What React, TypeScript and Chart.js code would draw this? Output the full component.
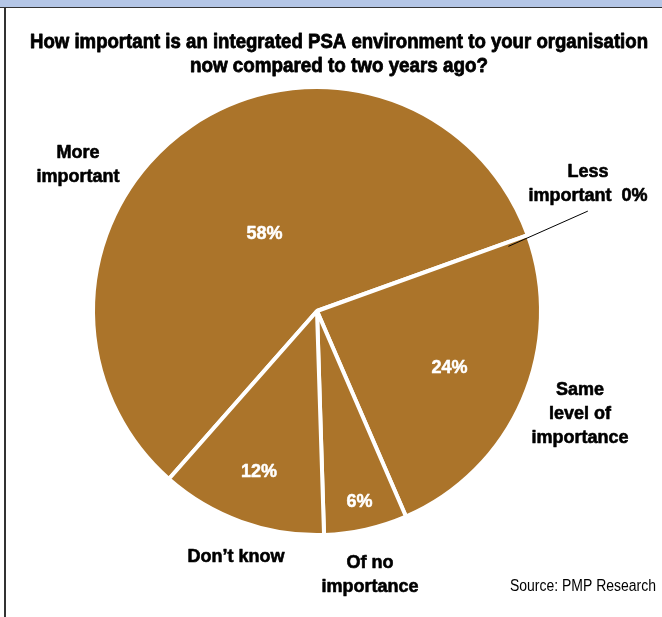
import React, { useEffect, useRef } from "react";
import { Chart, registerables } from "chart.js";

Chart.register(...registerables);

const categories = ["More important", "Less important", "Same level of importance", "Of no importance", "Don't know"];
const values = [58, 0, 24, 6, 12];
const percentLabels = ["58%", "", "24%", "6%", "12%"];
const outsideLabels = [["More", "important"], ["Less", "important  0%"], ["Same", "level of", "importance"], ["Of no", "importance"], ["Don\u2019t know"]];
const titleLines = ["How important is an integrated PSA environment to your organisation", "now compared to two years ago?"];
const sourceText = "Source: PMP Research";

// layout helpers (positions relative to pie center, in radius units)
const pctRadial = [0.42, 0, 0.65, 0.88, 0.77];
const outsideOffsets: [number, number][] = [[-1.077, -0.658], [1.221, -0.574], [1.185, 0.464], [0.239, 1.189], [-0.365, 1.108]];

const FONT = '"Liberation Sans", Arial, sans-serif';
const SLICE = "#ab742a";

function heavyText(ctx: any, text: string, x: number, y: number, weight: number) {
  ctx.fillText(text, x, y);
  if (weight > 0) {
    ctx.lineWidth = weight;
    ctx.strokeStyle = ctx.fillStyle;
    ctx.lineJoin = "round";
    ctx.strokeText(text, x, y);
  }
}

function fitText(ctx: any, text: string, x: number, y: number, width: number, weight: number) {
  const w = ctx.measureText(text).width;
  const s = Math.min(1, width / w);
  ctx.save();
  ctx.translate(x, y);
  ctx.scale(s, 1);
  heavyText(ctx, text, 0, 0, weight);
  ctx.restore();
}

const labelPlugin = {
  id: "labels",
  afterDraw(chart: any) {
    const ctx = chart.ctx;
    const meta = chart.getDatasetMeta(0);
    const arcs = meta.data;
    if (!arcs.length) return;
    const a0 = arcs[0];
    const cx = a0.x, cy = a0.y;
    const r = 222;
    ctx.save();
    // title
    ctx.fillStyle = "#000";
    ctx.textAlign = "center";
    ctx.textBaseline = "middle";
    ctx.font = `bold 20px ${FONT}`;
    fitText(ctx, titleLines[0], 339, 42, 618, 0.8);
    fitText(ctx, titleLines[1], 339, 66, 298, 0.8);

    // percent labels
    ctx.font = `bold 18px ${FONT}`;
    ctx.fillStyle = "#fff";
    arcs.forEach((arc: any, i: number) => {
      if (!percentLabels[i]) return;
      const p = arc.getProps(["startAngle", "endAngle"], true);
      const mid = (p.startAngle + p.endAngle) / 2;
      const d = pctRadial[i] * r;
      heavyText(ctx, percentLabels[i], cx + Math.cos(mid) * d, cy + Math.sin(mid) * d, 0.5);
    });

    // outside labels
    ctx.fillStyle = "#000";
    ctx.font = `bold 18px ${FONT}`;
    const lh = 24;
    outsideLabels.forEach((lines, i) => {
      const [ox, oy] = outsideOffsets[i];
      const x = cx + ox * r;
      const y = cy + oy * r;
      const top = y - ((lines.length - 1) * lh) / 2;
      lines.forEach((t, j) => heavyText(ctx, t, x, top + j * lh, 0.6));
    });

    // leader line for zero slice
    const z = arcs[1].getProps(["startAngle"], true).startAngle;
    ctx.strokeStyle = "#000";
    ctx.lineWidth = 1;
    ctx.beginPath();
    ctx.moveTo(cx + Math.cos(z + 0.02) * r * 0.91, cy + Math.sin(z + 0.02) * r * 0.91);
    ctx.lineTo(cx + 1.22 * r, cy - 0.45 * r);
    ctx.stroke();

    // source
    ctx.font = `16px ${FONT}`;
    ctx.textAlign = "left";
    fitText(ctx, sourceText, 510, 587, 146, 0);
    ctx.restore();
  },
};

export default function App() {
  const ref = useRef<HTMLCanvasElement>(null);
  useEffect(() => {
    if (!ref.current) return;
    const chart = new Chart(ref.current, {
      type: "pie",
      data: {
        labels: categories,
        datasets: [
          {
            data: values,
            backgroundColor: SLICE,
            borderColor: "#fff",
            borderWidth: 4,
            radius: 224,
          } as any,
        ],
      },
      options: {
        animation: false,
        responsive: false,
        rotation: -138.6,
        layout: { padding: { left: 0, right: 28, top: 5, bottom: 0 } },
        plugins: { legend: { display: false }, tooltip: { enabled: false }, title: { display: false } },
      },
      plugins: [labelPlugin],
    });
    return () => chart.destroy();
  }, []);
  return (
    <div style={{ position: "absolute", left: 0, top: 0, width: 662, height: 617, background: "#fff", overflow: "hidden" }}>
      <canvas ref={ref} width={662} height={617} style={{ position: "absolute", left: 0, top: 0 }} />
      <div style={{ position: "absolute", left: 0, top: 0, width: 662, height: 7, background: "#b4c6e6", borderBottom: "1.5px solid #333" }} />
      <div style={{ position: "absolute", left: 4, top: 8, width: 1.5, height: 609, background: "#333" }} />
    </div>
  );
}
